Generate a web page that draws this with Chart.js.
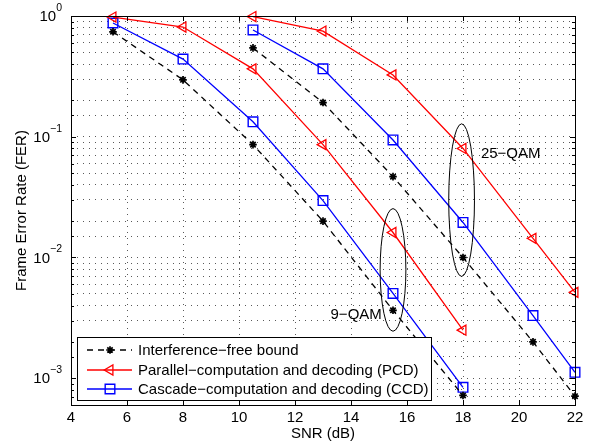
<!DOCTYPE html>
<html>
<head>
<meta charset="utf-8">
<script src="https://cdn.jsdelivr.net/npm/chart.js@4"></script>
<style>
  html, body { margin: 0; padding: 0; background: #fff; }
</style>
</head>
<body>
<canvas id="ferChart" width="595" height="443"></canvas>
<script>
// SNR points for each constellation
const snrQam9 = [5.5, 8, 10.5, 13, 15.5, 18];
const snrQam25 = [10.5, 13, 15.5, 18, 20.5, 22];

// frame error rates
const boundQam9 = [0.74, 0.296, 0.086, 0.020, 0.00365, 0.00072];
const pcdQam9 = [0.98, 0.81, 0.365, 0.086, 0.0161, 0.0025];
const ccdQam9 = [0.875, 0.44, 0.133, 0.0296, 0.00504, 0.00084];
const boundQam25 = [0.544, 0.192, 0.0467, 0.0100, 0.0020, 0.00071];
const pcdQam25 = [0.99, 0.75, 0.325, 0.080, 0.0144, 0.00514];
const ccdQam25 = [0.766, 0.365, 0.094, 0.0195, 0.0033, 0.00112];

const xTickValues = [4, 6, 8, 10, 12, 14, 16, 18, 20, 22];
const yDecades = [1, 0.1, 0.01, 0.001];
const yExponents = ["0", "\u22121", "\u22122", "\u22123"];

const legendLabels = [
    "Interference\u2212free bound",
    "Parallel\u2212computation and decoding (PCD)",
    "Cascade\u2212computation and decoding (CCD)"
];

// ellipses grouping the curves of one constellation: x, y range, half width
const groups = [
    { x: 15.5, yTop: 0.0254, yBottom: 0.00245, halfWidth: 0.46, label: "9\u2212QAM", labelX: 15.1, labelY: 0.00332, align: "right" },
    { x: 17.95, yTop: 0.128, yBottom: 0.00697, halfWidth: 0.46, label: "25\u2212QAM", labelX: 18.64, labelY: 0.0724, align: "left" }
];

const FONT = "Liberation Sans, Arial, Helvetica, sans-serif";
const TEXT_SIZE = 15;

function pts(xs, ys) {
    return xs.map((x, i) => ({ x: x, y: ys[i] }));
}

const boundStyle = {
    borderColor: "#000", backgroundColor: "#000", borderWidth: 1.3, borderDash: [6, 5],
    pointStyle: "star", pointRadius: 3.8, pointBorderWidth: 1.7, pointBorderColor: "#000"
};
const pcdStyle = {
    borderColor: "#ff0000", backgroundColor: "rgba(0,0,0,0)", borderWidth: 1.3,
    pointStyle: "triangle", pointRotation: -90, pointRadius: 5.8, pointBorderWidth: 1.3,
    pointBorderColor: "#ff0000", pointBackgroundColor: "rgba(0,0,0,0)"
};
const ccdStyle = {
    borderColor: "#0000ff", backgroundColor: "rgba(0,0,0,0)", borderWidth: 1.3,
    pointStyle: "rect", pointRadius: 6.8, pointBorderWidth: 1.4,
    pointBorderColor: "#0000ff", pointBackgroundColor: "rgba(0,0,0,0)"
};
const legendStyles = [boundStyle, pcdStyle, ccdStyle];

const datasets = [
    Object.assign({ label: legendLabels[0], data: pts(snrQam9, boundQam9) }, boundStyle),
    Object.assign({ label: legendLabels[1], data: pts(snrQam9, pcdQam9) }, pcdStyle),
    Object.assign({ label: legendLabels[2], data: pts(snrQam9, ccdQam9) }, ccdStyle),
    Object.assign({ label: legendLabels[0], data: pts(snrQam25, boundQam25) }, boundStyle),
    Object.assign({ label: legendLabels[1], data: pts(snrQam25, pcdQam25) }, pcdStyle),
    Object.assign({ label: legendLabels[2], data: pts(snrQam25, ccdQam25) }, ccdStyle)
].map(d => Object.assign(d, { fill: false, tension: 0, clip: false }));

// frame, inward ticks, decade labels, ellipses and legend box
const decorations = {
    id: "decorations",
    afterDatasetsDraw(chart) {
        const ctx = chart.ctx;
        const xs = chart.scales.x, ys = chart.scales.y;
        const a = chart.chartArea;
        ctx.save();

        // ellipses and their labels
        ctx.strokeStyle = "#000";
        ctx.lineWidth = 1;
        ctx.fillStyle = "#000";
        ctx.font = TEXT_SIZE + "px " + FONT;
        ctx.textBaseline = "middle";
        groups.forEach(g => {
            const cx = xs.getPixelForValue(g.x);
            const top = ys.getPixelForValue(g.yTop);
            const bot = ys.getPixelForValue(g.yBottom);
            const rx = xs.getPixelForValue(g.x + g.halfWidth) - cx;
            ctx.beginPath();
            ctx.ellipse(cx, (top + bot) / 2, rx, (bot - top) / 2, 0, 0, Math.PI * 2);
            ctx.stroke();
            ctx.textAlign = g.align;
            ctx.fillText(g.label, xs.getPixelForValue(g.labelX), ys.getPixelForValue(g.labelY));
        });

        // frame
        ctx.lineWidth = 1;
        ctx.strokeRect(Math.round(a.left) + 0.5, Math.round(a.top) + 0.5,
            Math.round(a.right - a.left), Math.round(a.bottom - a.top));

        // inward tick marks
        ctx.beginPath();
        xs.ticks.forEach(t => {
            const px = Math.round(xs.getPixelForValue(t.value)) + 0.5;
            ctx.moveTo(px, a.bottom); ctx.lineTo(px, a.bottom - 5);
            ctx.moveTo(px, a.top); ctx.lineTo(px, a.top + 5);
        });
        ys.ticks.forEach(t => {
            const py = Math.round(ys.getPixelForValue(t.value)) + 0.5;
            const len = t.major ? 5 : 3;
            ctx.moveTo(a.left, py); ctx.lineTo(a.left + len, py);
            ctx.moveTo(a.right, py); ctx.lineTo(a.right - len, py);
        });
        ctx.stroke();

        // decade labels 10^k
        yDecades.forEach((v, i) => {
            const py = ys.getPixelForValue(v);
            ctx.font = "10.5px " + FONT;
            const ew = ctx.measureText(yExponents[i]).width;
            ctx.textAlign = "left";
            ctx.fillText(yExponents[i], 62 - ew, py - 8);
            ctx.font = TEXT_SIZE + "px " + FONT;
            ctx.textAlign = "right";
            ctx.fillText("10", 62 - ew, py + 1);
        });

        // legend
        const box = { left: 77.5, top: 337.5, width: 354, height: 63 };
        ctx.fillStyle = "#fff";
        ctx.fillRect(box.left, box.top, box.width, box.height);
        ctx.strokeStyle = "#000";
        ctx.strokeRect(box.left, box.top, box.width, box.height);
        const rowY = [350, 370, 389];
        legendStyles.forEach((s, i) => {
            const y = rowY[i];
            ctx.save();
            ctx.strokeStyle = s.borderColor;
            ctx.lineWidth = s.borderWidth;
            ctx.setLineDash(s.borderDash || []);
            ctx.beginPath();
            ctx.moveTo(87, y); ctx.lineTo(132, y);
            ctx.stroke();
            ctx.restore();
            ctx.save();
            ctx.strokeStyle = s.pointBorderColor;
            ctx.fillStyle = s.pointBackgroundColor || s.pointBorderColor;
            ctx.lineWidth = s.pointBorderWidth;
            Chart.helpers.drawPoint(ctx, {
                pointStyle: s.pointStyle, rotation: s.pointRotation || 0,
                radius: s.pointRadius, borderWidth: s.pointBorderWidth
            }, 110, y);
            ctx.restore();
            ctx.fillStyle = "#000";
            ctx.font = TEXT_SIZE + "px " + FONT;
            ctx.textAlign = "left";
            ctx.textBaseline = "middle";
            ctx.fillText(legendLabels[i], 138, y + 1);
        });
        ctx.restore();
    }
};

const gridDots = { color: "rgba(0,0,0,0.65)", lineWidth: 1, drawTicks: false };

new Chart(document.getElementById("ferChart"), {
    type: "line",
    data: { datasets: datasets },
    options: {
        responsive: false,
        devicePixelRatio: 1,
        animation: false,
        layout: { padding: { top: 16, right: 20, left: 0, bottom: 0 } },
        plugins: { legend: { display: false }, tooltip: { enabled: false } },
        scales: {
            x: {
                type: "linear",
                min: 4, max: 22,
                afterBuildTicks: s => { s.ticks = xTickValues.map(v => ({ value: v })); },
                grid: gridDots,
                border: { display: false, dash: [1, 5] },
                ticks: { color: "#000", font: { family: FONT, size: TEXT_SIZE }, padding: 4, maxRotation: 0 },
                title: { display: true, text: "SNR (dB)", color: "#000", font: { family: FONT, size: TEXT_SIZE }, padding: 0 },
                afterFit: s => { s.height = 38; }
            },
            y: {
                type: "logarithmic",
                min: 0.0006, max: 1,
                grid: gridDots,
                border: { display: false, dash: [1, 5] },
                ticks: { display: false, autoSkip: false },
                title: { display: true, text: "Frame Error Rate (FER)", color: "#000", font: { family: FONT, size: TEXT_SIZE }, padding: { top: 13 } },
                afterFit: s => { s.width = 71; }
            }
        }
    },
    plugins: [decorations]
});
</script>
</body>
</html>
